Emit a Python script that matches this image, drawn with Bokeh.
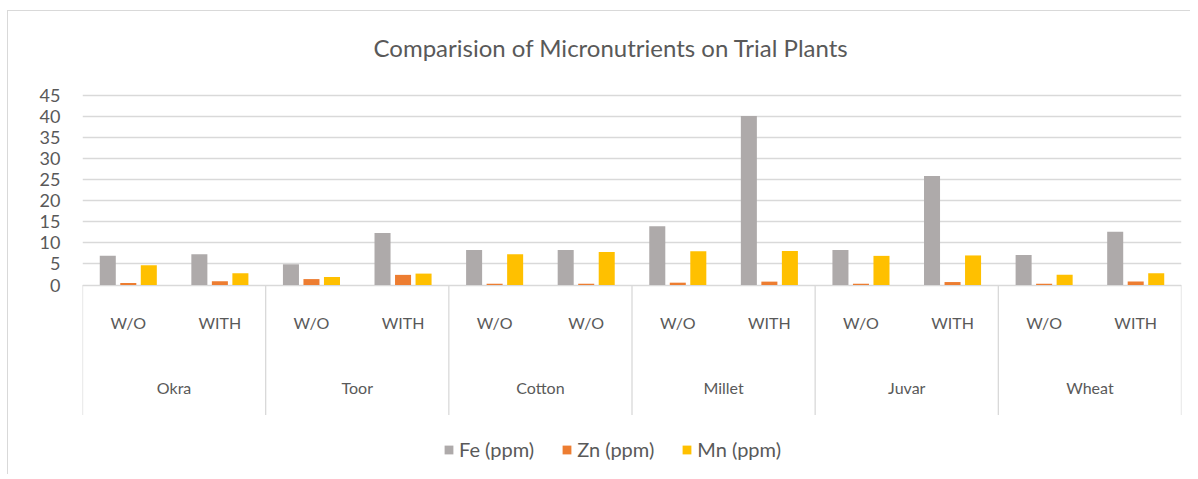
from bokeh.plotting import figure
from bokeh.models import ColumnDataSource, Range1d, FixedTicker, Legend, LegendItem, Label
from bokeh.core.properties import value
from bokeh.layouts import column
from bokeh.transform import dodge
from bokeh.embed import file_html
from bokeh.resources import INLINE

# ---- data ----
plants = ["Okra", "Toor", "Cotton", "Millet", "Juvar", "Wheat"]
treatments = ["W/O", "WITH", "W/O", "WITH", "W/O", "W/O", "W/O", "WITH", "W/O", "WITH", "W/O", "WITH"]
fe = [6.9, 7.3, 4.9, 12.3, 8.3, 8.3, 13.9, 40.0, 8.3, 25.8, 7.1, 12.6]
zn = [0.5, 0.9, 1.4, 2.4, 0.3, 0.3, 0.55, 0.8, 0.3, 0.7, 0.3, 0.8]
mn = [4.7, 2.8, 1.9, 2.7, 7.3, 7.8, 8.0, 8.05, 6.9, 7.0, 2.4, 2.8]
series_names = ["Fe (ppm)", "Zn (ppm)", "Mn (ppm)"]
y_ticks = [0, 5, 10, 15, 20, 25, 30, 35, 40, 45]
title_text = "Comparision of Micronutrients on Trial Plants"

colors = ["#AEAAAA", "#ED7D31", "#FFC000"]
TXT = "#595959"
GRID = "#D9D9D9"
FONT = "Lato"

n = len(treatments)
per_group = n // len(plants)
n_groups = len(plants)

# ---- layout geometry (pixels) ----
W, H = 1182, 463
ZERO = 273.5                   # canvas y of value 0
PLOT_H = 190                   # height of the 0..45 value band
ppu = PLOT_H / y_ticks[-1]     # pixels per value unit
y_end = ZERO / ppu
y_start = -(H - ZERO) / ppu
SUB_Y = -37 / ppu              # treatment labels
GRP_Y = -102 / ppu             # plant labels
SEP_Y = -130 / ppu             # separator length

p = figure(width=W, height=H, output_backend="svg", toolbar_location=None,
           x_range=Range1d(-0.5, n - 0.5), y_range=Range1d(y_start, y_end),
           x_axis_location=None, y_axis_location="left",
           min_border_left=74, min_border_right=9, min_border_top=0, min_border_bottom=0,
           title=None)
p.outline_line_color = None
p.background_fill_color = "white"
p.border_fill_color = "white"

# title
p.add_layout(Label(x=291, y=H - 35.5, x_units="screen", y_units="screen", text=title_text,
                   text_align="left", text_baseline="middle", text_font=FONT,
                   text_font_size="24px", text_color=TXT))

# y axis
p.yaxis.ticker = FixedTicker(ticks=y_ticks)
p.yaxis.axis_line_color = None
p.yaxis.major_tick_line_color = None
p.yaxis.minor_tick_line_color = None
p.yaxis.major_tick_out = 0
p.yaxis.minor_tick_out = 0
p.yaxis.major_label_standoff = 22
p.yaxis.major_label_text_font = FONT
p.yaxis.major_label_text_font_size = "18px"
p.yaxis.major_label_text_color = TXT

p.xgrid.grid_line_color = None
p.ygrid.ticker = FixedTicker(ticks=y_ticks)
p.ygrid.grid_line_color = GRID
p.ygrid.grid_line_width = 1.3

# bars
src = ColumnDataSource(dict(x=list(range(n)), fe=fe, zn=zn, mn=mn, lab=treatments))
bw = 0.175
step = 0.224
rs = []
for col, off, c in zip(["fe", "zn", "mn"], [-step, 0, step], colors):
    r = p.vbar(x=dodge("x", off, range=p.x_range), top=col, width=bw, source=src,
               fill_color=c, line_color=None)
    rs.append(r)

# category axis: separators + two label levels
sep_x = [g * per_group - 0.5 for g in range(n_groups + 1)]
p.segment(x0=sep_x, x1=sep_x, y0=[0] * len(sep_x), y1=[SEP_Y] * len(sep_x),
          line_color=GRID, line_width=1.3)
p.text(x="x", y=SUB_Y, text="lab", source=src, text_align="center", text_baseline="middle",
       text_font=value(FONT), text_font_size="16px", text_color=TXT)
grp_x = [g * per_group + (per_group - 1) / 2 for g in range(n_groups)]
p.text(x=grp_x, y=[GRP_Y] * n_groups, text=plants, text_align="center", text_baseline="middle",
       text_font=value(FONT), text_font_size="16px", text_color=TXT)

# legend
legend = Legend(items=[LegendItem(label=nm, renderers=[r]) for nm, r in zip(series_names, rs)],
                orientation="horizontal", location=(361, 13))
legend.border_line_color = None
legend.background_fill_alpha = 0
legend.padding = 0
legend.margin = 0
legend.spacing = 27
legend.glyph_width = 11
legend.glyph_height = 11
legend.label_standoff = 5
legend.label_height = 20
legend.label_text_font = FONT
legend.label_text_font_size = "20px"
legend.label_text_color = TXT
p.add_layout(legend, "center")

root = column(p, styles={"border-left": "1.5px solid #D9D9D9", "border-top": "1.5px solid #D9D9D9",
                         "margin-top": "10px", "margin-left": "7px"})

open("out.html", "w").write(file_html(root, INLINE))
